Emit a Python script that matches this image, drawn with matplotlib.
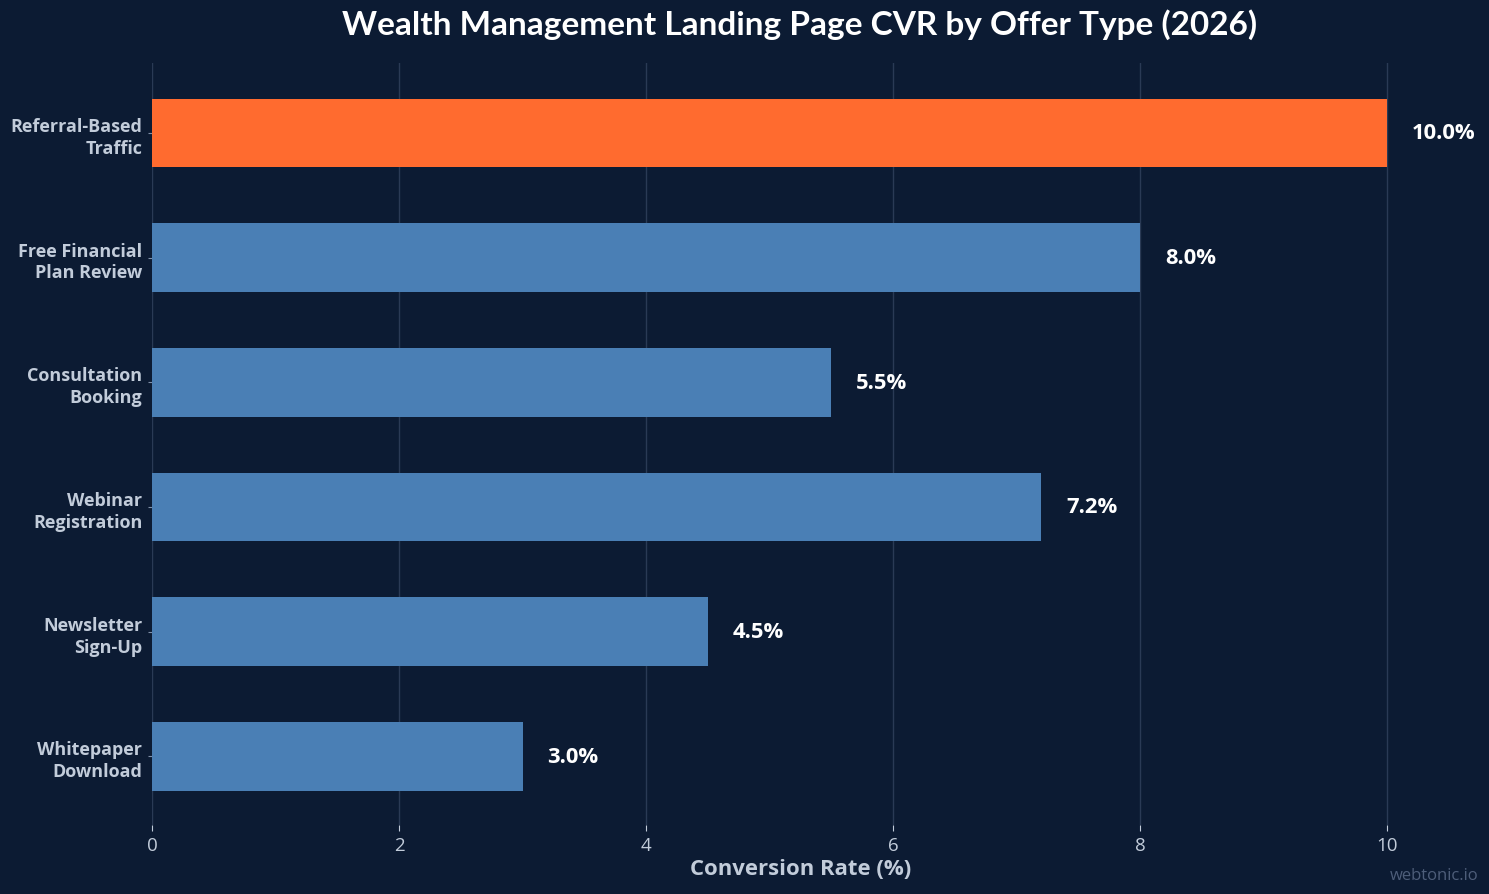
import matplotlib
matplotlib.use("Agg")
import matplotlib.pyplot as plt

categories = ["Referral-Based\nTraffic", "Free Financial\nPlan Review", "Consultation\nBooking",
              "Webinar\nRegistration", "Newsletter\nSign-Up", "Whitepaper\nDownload"]
values = [10.0, 8.0, 5.5, 7.2, 4.5, 3.0]
highlight = [True, False, False, False, False, False]
xticks = [0, 2, 4, 6, 8, 10]

BG = "#0c1b33"
BLUE = "#4a7fb5"
ORANGE = "#ff6b2f"
GRID = "#2a3a55"
TICK = "#c2ccda"

W, H = 1489, 895
fig = plt.figure(figsize=(W / 100, H / 100), dpi=100, facecolor=BG)
left, right, top, bottom = 152, 1449, 64, 826
ax = fig.add_axes([left / W, 1 - bottom / H, (right - left) / W, (bottom - top) / H])
ax.set_facecolor(BG)

ypos = list(range(len(categories)))
colors = [ORANGE if h else BLUE for h in highlight]
ax.barh(ypos, values, height=0.55, color=colors, zorder=3)

px_per_unit = (1387 - 152) / 10
ax.set_xlim(0, (right - left) / px_per_unit)
ax.set_ylim(5.55, -0.56)

ax.set_xticks(xticks)
ax.set_xticklabels([str(t) for t in xticks], fontfamily="Open Sans", fontsize=13.5, color=TICK)
ax.set_yticks(ypos)
ax.set_yticklabels(categories, fontfamily="Open Sans", fontweight="bold", fontsize=13,
                   color=TICK, linespacing=1.28)
ax.tick_params(axis="x", length=4, color=TICK, pad=4)
ax.tick_params(axis="y", length=3, color="#8090a8", pad=4)
ax.grid(axis="x", color=GRID, linewidth=1, zorder=0)
for s in ax.spines.values():
    s.set_visible(False)

for y, v in zip(ypos, values):
    ax.annotate(f"{v:.1f}%", xy=(v, y), xytext=(18, 0), textcoords="offset points",
                va="center", ha="left", color="white", fontfamily="Open Sans",
                fontweight="bold", fontsize=15.8)

ax.set_xlabel("Conversion Rate (%)", fontfamily="Open Sans", fontweight="bold",
              fontsize=15.9, color=TICK, labelpad=2.5)

fig.text(800 / W, 1 - 25 / H, "Wealth Management Landing Page CVR by Offer Type (2026)",
         ha="center", va="center", fontfamily="Lato", fontweight="bold", fontsize=24, color="white")
fig.text(1478 / W, 1 - 876 / H, "webtonic.io", ha="right", va="center",
         fontfamily="Open Sans", fontsize=12, color="#4e5e7a")

fig.savefig("out.png", dpi=100, facecolor=BG)
